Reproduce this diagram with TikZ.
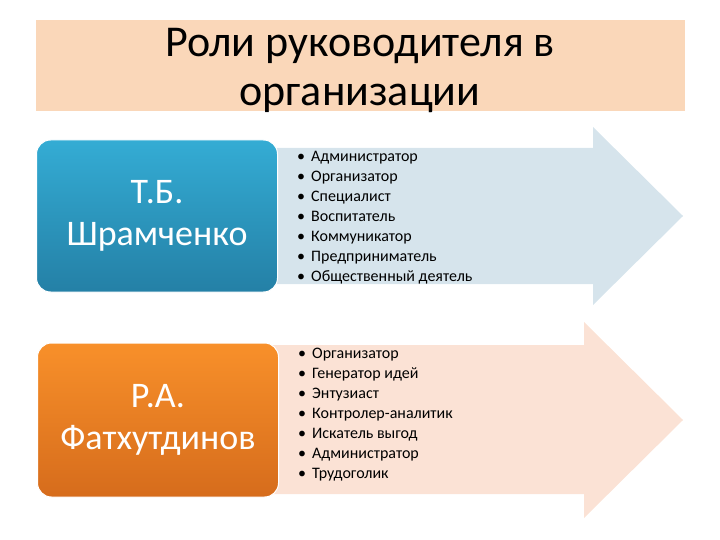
\documentclass[tikz,border=0pt]{standalone}
\usepackage{fontspec}
\setmainfont{Carlito}
\usetikzlibrary{positioning}

\definecolor{titlefill}{RGB}{250,215,185}
\definecolor{arrowblue}{RGB}{214,228,236}
\definecolor{arrowpeach}{RGB}{251,226,213}
\definecolor{bluetop}{RGB}{52,172,212}
\definecolor{bluebottom}{RGB}{36,128,166}
\definecolor{orangetop}{RGB}{248,144,42}
\definecolor{orangebottom}{RGB}{214,108,28}

\tikzset{
    namebox/.style={rounded corners=14pt, minimum width=241pt, minimum height=152pt,
        draw=white, line width=1pt, text=white, align=center,
        font=\fontsize{36}{42}\selectfont},
    rolelist/.style={align=left, inner sep=0pt, font=\fontsize{16}{20}\selectfont}
}

\begin{document}
\begin{tikzpicture}[x=1pt, y=-1pt]
        \useasboundingbox ( 0, 0 ) rectangle ( 720, 540 );

        % заголовок
        \path [fill=titlefill] ( 36, 20 ) rectangle ( 685, 111 );
        \node (title) [align=center, font=\fontsize{44}{49}\selectfont] at ( 360, 70 ) {Роли руководителя в\\организации};

        % стрелки
        \path [fill=arrowblue] ( 270, 148 ) -- ( 593, 148 ) -- ( 593, 127 ) -- ( 683, 216 )
            -- ( 593, 305 ) -- ( 593, 284 ) -- ( 270, 284 ) -- cycle;
        \path [fill=arrowpeach] ( 270, 345 ) -- ( 584, 345 ) -- ( 584, 322 ) -- ( 683, 420 )
            -- ( 584, 518 ) -- ( 584, 494 ) -- ( 270, 494 ) -- cycle;

        % авторы
        \node (shramchenko) [namebox, top color=bluetop, bottom color=bluebottom] at ( 157, 216 ) {Т.Б.\\Шрамченко};
        \node (fatkhutdinov) [namebox, top color=orangetop, bottom color=orangebottom, minimum height=154pt] at ( 158, 420 ) {Р.А.\\Фатхутдинов};

        % роли
        \node (roles1) [rolelist, right=19pt of shramchenko, yshift=-2pt] {%
            •\hspace{6pt}Администратор\\
            •\hspace{6pt}Организатор\\
            •\hspace{6pt}Специалист\\
            •\hspace{6pt}Воспитатель\\
            •\hspace{6pt}Коммуникатор\\
            •\hspace{6pt}Предприниматель\\
            •\hspace{6pt}Общественный деятель};
        \node (roles2) [rolelist, right=19pt of fatkhutdinov, yshift=5pt] {%
            •\hspace{6pt}Организатор\\
            •\hspace{6pt}Генератор идей\\
            •\hspace{6pt}Энтузиаст\\
            •\hspace{6pt}Контролер-аналитик\\
            •\hspace{6pt}Искатель выгод\\
            •\hspace{6pt}Администратор\\
            •\hspace{6pt}Трудоголик};
    \end{tikzpicture}
\end{document}
